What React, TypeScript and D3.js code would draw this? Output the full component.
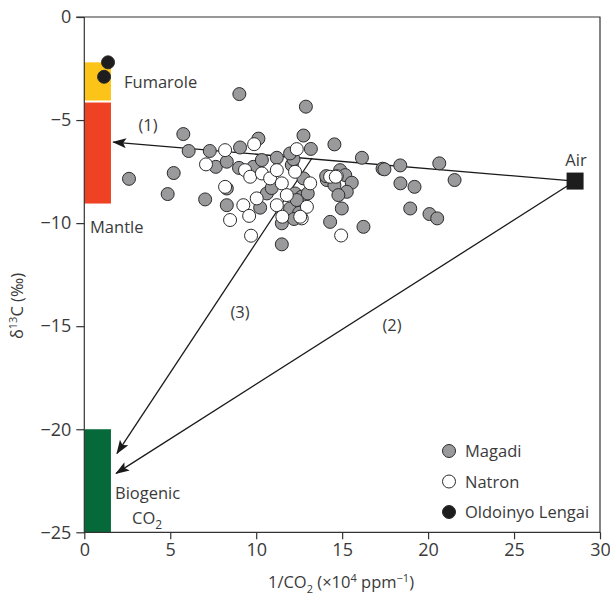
import * as d3 from 'd3';
import { useEffect, useRef } from 'react';

// Magadi samples [1/CO2, d13C]
const magadi: [number, number][] = [
  [2.6, -7.85], [4.85, -8.59], [5.76, -5.68], [6.07, -6.5], [5.2, -7.57],
  [7.03, -8.85], [7.3, -6.5], [7.65, -7.27], [8.29, -9.13], [9.02, -3.74],
  [10.13, -5.9], [9.06, -6.33], [8.29, -7.02], [9.0, -7.32], [9.84, -7.27],
  [10.33, -6.94], [11.2, -6.83], [12.07, -7.18], [12.17, -6.9], [11.97, -6.62],
  [12.75, -5.75], [12.89, -4.35], [8.29, -8.32], [10.23, -9.25], [10.62, -8.56],
  [12.26, -8.56], [11.97, -9.29], [11.49, -10.01], [12.65, -8.72], [11.49, -11.03],
  [13.18, -6.4], [14.55, -6.18], [12.75, -7.83], [13.0, -8.56], [16.15, -6.83],
  [17.35, -7.36], [17.46, -7.39], [18.38, -7.2], [20.65, -7.1], [14.11, -7.91],
  [14.07, -7.72], [14.88, -7.43], [15.18, -7.67], [15.56, -8.04], [14.55, -8.16],
  [15.27, -8.48], [14.78, -8.64], [14.98, -9.29], [14.3, -9.94], [16.24, -10.18],
  [18.39, -8.07], [19.21, -8.24], [18.96, -9.29], [20.08, -9.56], [20.53, -9.77],
  [21.54, -7.91], [12.36, -8.88], [12.5, -9.5], [12.2, -9.8], [10.9, -8.3],
];

// Natron samples
const natron: [number, number][] = [
  [7.08, -7.15], [9.88, -6.17], [8.19, -6.46], [9.35, -7.43], [9.65, -7.75],
  [10.33, -7.59], [10.81, -7.83], [11.2, -7.43], [11.49, -8.07], [12.26, -7.51],
  [13.14, -8.07], [12.36, -6.41], [8.19, -8.24], [10.03, -8.8], [9.25, -9.13],
  [9.59, -9.65], [8.48, -9.85], [11.2, -9.13], [11.78, -8.64], [12.95, -9.21],
  [12.65, -9.77], [11.52, -9.69], [9.7, -10.61], [14.94, -10.6], [14.69, -7.72],
  [14.3, -7.75], [14.63, -7.75], [12.56, -9.69],
];

// Oldoinyo Lengai
const lengai: [number, number][] = [[1.38, -2.2], [1.15, -2.9]];

// end-member boxes
const boxes = [
  { name: 'Fumarole', x: [0, 1.55], y: [-2.2, -4.05], color: '#fcc419' },
  { name: 'Mantle', x: [0, 1.55], y: [-4.15, -9.05], color: '#ef4123' },
  { name: 'Biogenic', x: [0, 1.55], y: [-20, -25], color: '#05693a' },
];

const air: [number, number] = [28.55, -7.96];

// mixing arrows: from -> to
const arrows: { label: string; from: [number, number]; to: [number, number] }[] = [
  { label: '(1)', from: air, to: [1.68, -6.07] },
  { label: '(2)', from: air, to: [1.85, -22.14] },
  { label: '(3)', from: [13.25, -6.84], to: [1.9, -21.17] },
];

const xTicks = [0, 5, 10, 15, 20, 25, 30];
const yTicks = [0, -5, -10, -15, -20, -25];

const font = "'Open Sans', 'Noto Sans', sans-serif";
const textColor = '#3a3a3a';

const App = () => {
  const svgRef = useRef(null);

  useEffect(() => {
    const svg = d3.select(svgRef.current);
    svg.selectAll('*').remove();
    const left = 84.3, top = 17, right = 600, bottom = 532.3;

    const x = d3.scaleLinear().domain([0, 30]).range([left, right]);
    const y = d3.scaleLinear().domain([0, -25]).range([top, bottom]);

    const defs = svg.append('defs');
    defs.append('marker')
      .attr('id', 'head')
      .attr('viewBox', '0 0 14 10')
      .attr('refX', 13)
      .attr('refY', 5)
      .attr('markerWidth', 14)
      .attr('markerHeight', 10)
      .attr('markerUnits', 'userSpaceOnUse')
      .attr('orient', 'auto')
      .append('path')
      .attr('d', 'M0,0 L14,5 L0,10 L3,5 Z')
      .attr('fill', '#1a1a1a');

    // colored end-member bars
    svg.selectAll('.box')
      .data(boxes)
      .enter()
      .append('rect')
      .attr('x', d => x(d.x[0]))
      .attr('y', d => y(d.y[0]))
      .attr('width', d => x(d.x[1]) - x(d.x[0]))
      .attr('height', d => y(d.y[1]) - y(d.y[0]))
      .attr('fill', d => d.color);

    // frame
    svg.append('path')
      .attr('d', `M${left - 8},${top} H${right} V${bottom} H${left} V${top}`)
      .attr('fill', 'none')
      .attr('stroke', '#333')
      .attr('stroke-width', 1.2);

    // y axis
    const ya = svg.append('g')
      .attr('transform', `translate(${left},0)`)
      .call(d3.axisLeft(y).tickValues(yTicks).tickSize(8).tickSizeOuter(0)
        .tickFormat(d => (+d < 0 ? '\u2212' + Math.abs(+d) : String(d))));
    ya.select('.domain').remove();
    ya.selectAll('line').attr('stroke', '#333').attr('stroke-width', 1.2);
    ya.selectAll('text').attr('fill', textColor).style('font-family', font).style('font-size', '18px').attr('x', -13);

    // x axis
    const xa = svg.append('g')
      .attr('transform', `translate(0,${bottom})`)
      .call(d3.axisBottom(x).tickValues(xTicks).tickSize(7).tickSizeOuter(0));
    xa.select('.domain').remove();
    xa.selectAll('line').attr('stroke', '#333').attr('stroke-width', 1.2);
    xa.selectAll('text').attr('fill', textColor).style('font-family', font).style('font-size', '18px').attr('y', 11);

    // arrows
    svg.selectAll('.arrow')
      .data(arrows)
      .enter()
      .append('line')
      .attr('x1', d => x(d.from[0]))
      .attr('y1', d => y(d.from[1]))
      .attr('x2', d => x(d.to[0]))
      .attr('y2', d => y(d.to[1]))
      .attr('stroke', '#1a1a1a')
      .attr('stroke-width', 1.3)
      .attr('marker-end', 'url(#head)');

    const drawPoints = (data: [number, number][], fill: string) => {
      svg.append('g')
        .selectAll('circle')
        .data(data)
        .enter()
        .append('circle')
        .attr('cx', d => x(d[0]))
        .attr('cy', d => y(d[1]))
        .attr('r', 6.5)
        .attr('fill', fill)
        .attr('stroke', '#2b2b2b')
        .attr('stroke-width', 1);
    };
    drawPoints(magadi, '#9a9a9d');
    drawPoints(natron, '#ffffff');
    drawPoints(lengai, '#1d1d1d');

    // air end-member
    svg.append('rect')
      .attr('x', x(air[0]) - 8.5)
      .attr('y', y(air[1]) - 8.5)
      .attr('width', 17)
      .attr('height', 17)
      .attr('fill', '#1d1d1d');

    const label = (tx: number, ty: number, s: string, anchor = 'start') =>
      svg.append('text')
        .attr('x', tx).attr('y', ty)
        .attr('text-anchor', anchor)
        .attr('fill', textColor)
        .style('font-family', font)
        .style('font-size', '16.5px')
        .text(s);

    label(124, 88, 'Fumarole');
    label(90, 233, 'Mantle');
    label(576, 166, 'Air', 'middle');
    label(148, 131, '(1)', 'middle');
    label(392, 331, '(2)', 'middle');
    label(240, 318, '(3)', 'middle');
    label(115, 499, 'Biogenic');
    const co2 = label(132, 524, 'CO');
    co2.append('tspan').attr('dy', 5).style('font-size', '12px').text('2');

    // legend
    const legend = [
      { name: 'Magadi', fill: '#9a9a9d' },
      { name: 'Natron', fill: '#ffffff' },
      { name: 'Oldoinyo Lengai', fill: '#1d1d1d' },
    ];
    const lg = svg.append('g');
    legend.forEach((d, i) => {
      lg.append('circle')
        .attr('cx', 449).attr('cy', 451 + i * 30.5).attr('r', 6.5)
        .attr('fill', d.fill).attr('stroke', '#2b2b2b').attr('stroke-width', 1);
      lg.append('text')
        .attr('x', 465).attr('y', 457 + i * 30.5)
        .attr('fill', textColor)
        .style('font-family', font).style('font-size', '16.5px')
        .text(d.name);
    });

    // axis titles
    const yt = svg.append('text')
      .attr('transform', 'translate(23,306) rotate(-90)')
      .attr('text-anchor', 'middle')
      .attr('fill', textColor)
      .style('font-family', font).style('font-size', '16.5px');
    yt.append('tspan').text('\u03b4');
    yt.append('tspan').attr('dy', -6).style('font-size', '11px').text('13');
    yt.append('tspan').attr('dy', 6).text('C (\u2030)');

    const xt = svg.append('text')
      .attr('x', 341).attr('y', 588)
      .attr('text-anchor', 'middle')
      .attr('fill', textColor)
      .style('font-family', font).style('font-size', '16.5px');
    xt.append('tspan').text('1/CO');
    xt.append('tspan').attr('dy', 5).style('font-size', '11px').text('2');
    xt.append('tspan').attr('dy', -5).text(' (\u00d710');
    xt.append('tspan').attr('dy', -6).style('font-size', '11px').text('4');
    xt.append('tspan').attr('dy', 6).text(' ppm');
    xt.append('tspan').attr('dy', -6).style('font-size', '11px').text('\u22121');
    xt.append('tspan').attr('dy', 6).text(')');
  }, []);

  return (
    <svg ref={svgRef} width={610} height={598}
      style={{ position: 'absolute', left: 0, top: 0, background: '#fff' }} />
  );
};

export default App;
